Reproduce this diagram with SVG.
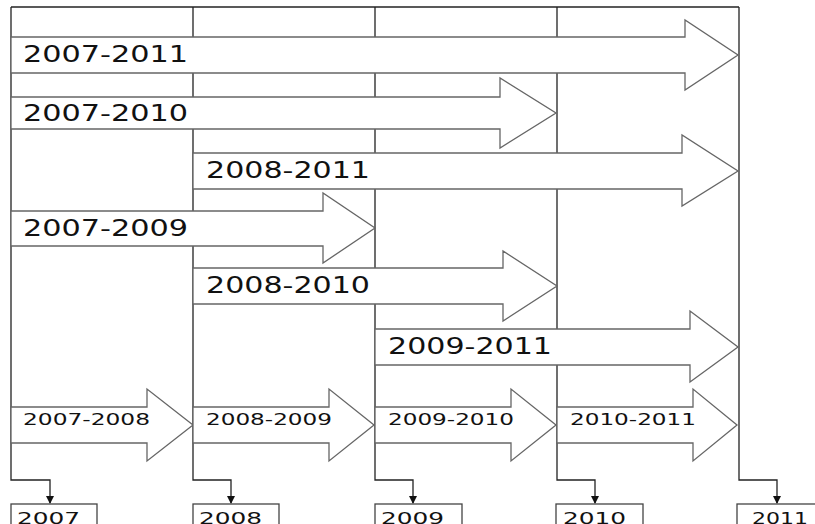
<svg xmlns="http://www.w3.org/2000/svg" width="815" height="524" viewBox="0 0 815 524">
<style>
.grid{stroke:#222;stroke-width:1.3;fill:none}
.arr{fill:#fff;stroke:#666;stroke-width:1.3;stroke-linejoin:miter}
.big{font-family:"DejaVu Sans",Verdana,sans-serif;font-size:23px;fill:#111}
.sm{font-family:"DejaVu Sans",Verdana,sans-serif;font-size:16px;fill:#111}
.box{fill:#fff;stroke:#444;stroke-width:1.3}
</style>
<defs>
<marker id="ah" markerWidth="8" markerHeight="8" refX="7" refY="4" orient="auto" markerUnits="userSpaceOnUse">
<path d="M0,0 L8,4 L0,8 Z" fill="#111"/>
</marker>
</defs>
<rect width="815" height="524" fill="#fff"/>
<g id="connectors">
<path class="grid" d="M11,7 H739"/>
<path class="grid" d="M11,7 V480 H50 V503" marker-end="url(#ah)"/>
<path class="grid" d="M193,7 V480 H231 V503" marker-end="url(#ah)"/>
<path class="grid" d="M375,7 V480 H413 V503" marker-end="url(#ah)"/>
<path class="grid" d="M557,7 V480 H595 V503" marker-end="url(#ah)"/>
<path class="grid" d="M739,7 V480 H777 V503" marker-end="url(#ah)"/>
</g>
<g id="a2007-2011">
<path class="arr" d="M11,37 H685 V20 L738,55 L685,90 V73 H11 Z"/>
<text class="big" x="23" y="62" textLength="165" lengthAdjust="spacingAndGlyphs">2007-2011</text>
</g>
<g id="a2007-2010">
<path class="arr" d="M11,97 H500 V78 L556,113 L500,148 V129 H11 Z"/>
<text class="big" x="23" y="121" textLength="165" lengthAdjust="spacingAndGlyphs">2007-2010</text>
</g>
<g id="a2008-2011">
<path class="arr" d="M193,153 H682 V135 L738,171 L682,206 V189 H193 Z"/>
<text class="big" x="206" y="178" textLength="164" lengthAdjust="spacingAndGlyphs">2008-2011</text>
</g>
<g id="a2007-2009">
<path class="arr" d="M11,211 H323 V193 L375,228 L323,263 V246 H11 Z"/>
<text class="big" x="23" y="236" textLength="165" lengthAdjust="spacingAndGlyphs">2007-2009</text>
</g>
<g id="a2008-2010">
<path class="arr" d="M193,268 H503 V251 L557,286 L503,321 V304 H193 Z"/>
<text class="big" x="206" y="293" textLength="164" lengthAdjust="spacingAndGlyphs">2008-2010</text>
</g>
<g id="a2009-2011">
<path class="arr" d="M375,329 H690 V311 L738,347 L690,382 V365 H375 Z"/>
<text class="big" x="388" y="354" textLength="164" lengthAdjust="spacingAndGlyphs">2009-2011</text>
</g>
<g id="a2007-2008">
<path class="arr" d="M11,407 H147 V389 L193,425 L147,461 V443 H11 Z"/>
<text class="sm" x="23" y="425" textLength="127" lengthAdjust="spacingAndGlyphs">2007-2008</text>
</g>
<g id="a2008-2009">
<path class="arr" d="M193,407 H329 V389 L374,425 L329,461 V443 H193 Z"/>
<text class="sm" x="206" y="425" textLength="126" lengthAdjust="spacingAndGlyphs">2008-2009</text>
</g>
<g id="a2009-2010">
<path class="arr" d="M375,407 H511 V389 L556,425 L511,461 V443 H375 Z"/>
<text class="sm" x="388" y="425" textLength="126" lengthAdjust="spacingAndGlyphs">2009-2010</text>
</g>
<g id="a2010-2011">
<path class="arr" d="M557,407 H693 V389 L737,425 L693,461 V443 H557 Z"/>
<text class="sm" x="570" y="425" textLength="126" lengthAdjust="spacingAndGlyphs">2010-2011</text>
</g>
<g id="y2007"><rect class="box" x="11" y="504" width="86" height="30"/><text class="sm" x="17" y="524" textLength="63" lengthAdjust="spacingAndGlyphs">2007</text></g>
<g id="y2008"><rect class="box" x="193" y="504" width="86" height="30"/><text class="sm" x="199" y="524" textLength="63" lengthAdjust="spacingAndGlyphs">2008</text></g>
<g id="y2009"><rect class="box" x="375" y="504" width="87" height="30"/><text class="sm" x="381" y="524" textLength="63" lengthAdjust="spacingAndGlyphs">2009</text></g>
<g id="y2010"><rect class="box" x="556" y="504" width="87" height="30"/><text class="sm" x="563" y="524" textLength="63" lengthAdjust="spacingAndGlyphs">2010</text></g>
<g id="y2011"><rect class="box" x="737" y="504" width="86" height="30"/><text class="sm" x="752" y="524" textLength="56" lengthAdjust="spacingAndGlyphs">2011</text></g>
</svg>
